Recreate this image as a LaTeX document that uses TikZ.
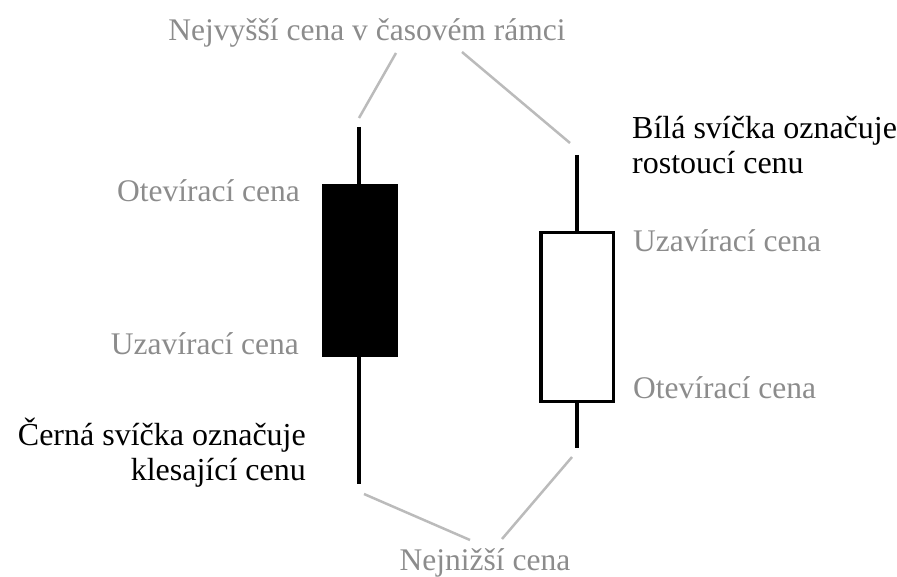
\documentclass[tikz,border=0pt]{standalone}
\usepackage{fontspec}
\setmainfont{Liberation Serif}
\definecolor{labelgray}{HTML}{8C8C8C}
\definecolor{leadgray}{HTML}{BBBBBB}
\tikzset{
  note/.style={font=\fontsize{31.5}{36}\selectfont, inner sep=0pt, text=labelgray},
  caption/.style={font=\fontsize{32}{35}\selectfont, inner sep=0pt, text=black, align=#1},
  wick/.style={line width=4pt, black},
  lead/.style={line width=2.5pt, leadgray},
}
\begin{document}
\begin{tikzpicture}[x=1pt, y=-1pt]
  \useasboundingbox (0,0) rectangle (897,577);

  % black (falling) candle
  \fill[black] (322,184) rectangle (398,357);
  \draw[wick] (359,127) -- (359,184);
  \draw[wick] (359,357) -- (359,484);

  % white (rising) candle
  \draw[line width=3.5pt, fill=white] (540.75,232.75) rectangle (613.25,401.25);
  \draw[wick] (577,155) -- (577,231);
  \draw[wick] (577,403) -- (577,448);

  % labels
  \node[note, anchor=base] (high) at (367,41) {Nejvyšší cena v časovém rámci};
  \node[note, anchor=base] (low) at (485,570) {Nejnižší cena};
  \node[note, anchor=base east] (bopen) at (300,202) {Otevírací cena};
  \node[note, anchor=base east] (bclose) at (299,354) {Uzavírací cena};
  \node[note, anchor=base west] (wclose) at (633,252) {Uzavírací cena};
  \node[note, anchor=base west] (wopen) at (633,398) {Otevírací cena};
  \node[caption=right, anchor=north east] (black) at (306,418) {Černá svíčka označuje\\klesající cenu};
  \node[caption=left, anchor=north west] (white) at (632,116) {Bílá svíčka označuje\\rostoucí cenu};

  % leader lines from the extreme-price labels to the wick ends
  \coordinate (h1) at (396,53);  \coordinate (h1e) at (359,118);
  \coordinate (h2) at (462,52);  \coordinate (h2e) at (570,143);
  \coordinate (l1) at (470,540); \coordinate (l1e) at (364,494);
  \coordinate (l2) at (502,539); \coordinate (l2e) at (572,457);
  \draw[lead] (h1) -- (h1e);
  \draw[lead] (h2) -- (h2e);
  \draw[lead] (l1) -- (l1e);
  \draw[lead] (l2) -- (l2e);
\end{tikzpicture}
\end{document}
